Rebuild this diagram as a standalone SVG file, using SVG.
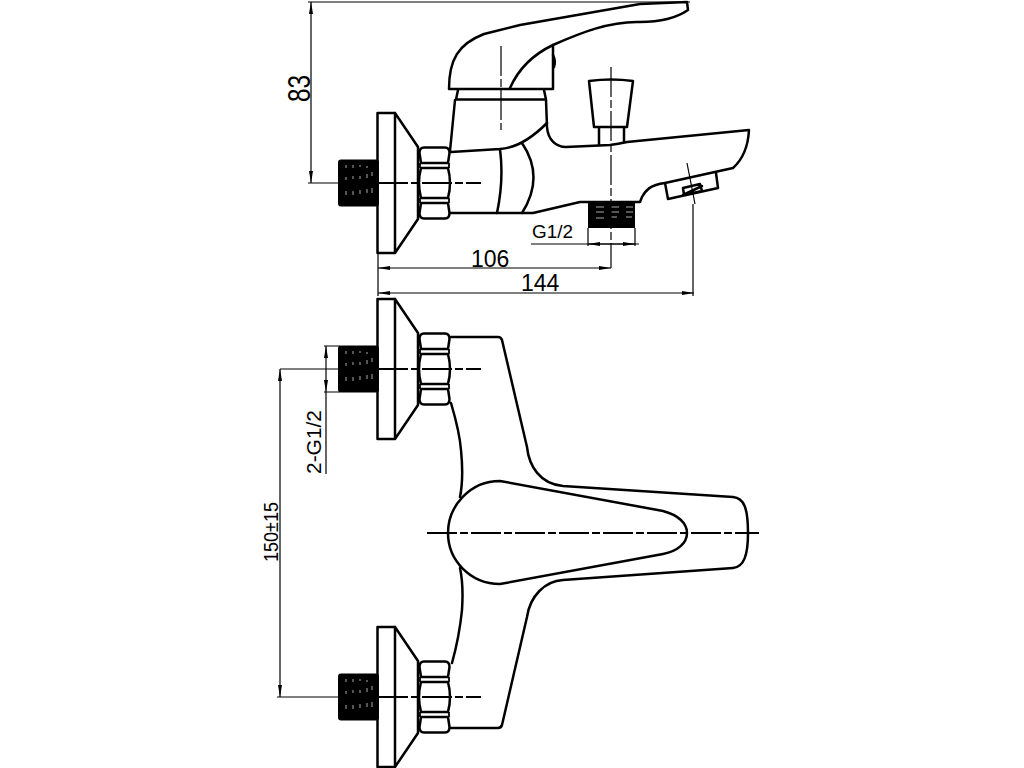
<svg xmlns="http://www.w3.org/2000/svg" xmlns:xlink="http://www.w3.org/1999/xlink" width="1024" height="768" viewBox="0 0 1024 768">
<style>
.o{fill:none;stroke:#000;stroke-width:2.5;stroke-linejoin:round;stroke-linecap:round}
.b{fill:none;stroke:#000;stroke-width:1.8}
.d{fill:none;stroke:#000;stroke-width:1.2}
.c{fill:none;stroke:#000;stroke-width:2;stroke-dasharray:30 3 8 3}
.t{fill:#000;font-family:"Liberation Sans",Arial,sans-serif}
.k{stroke:#aaa;stroke-width:1;fill:none}
</style>
<defs>
<marker id="a" markerWidth="12" markerHeight="6" refX="12" refY="3" orient="auto-start-reverse" markerUnits="userSpaceOnUse"><path d="M0 1L12 3L0 5Z" fill="#000"/></marker>
<g id="fit">
<rect x="338" y="-23.500" width="41" height="47" rx="3" fill="#000"/>
<path class="k" d="M346-18v3M353-18v3M360-18v2M367-17v2M346-6v3M353-7v3M360-7v3M367-9v4M372-11v4M346 8v4M353 8v4M360 7v4M367 6v4M372 5v5"/>
<path class="o" d="M377.500-70H395V70H377.500ZM395-70L418-36V36L395 70"/>
<path class="o" d="M421-20L419.500-30Q419.500-35.500 424-35.500H445Q449.500-35.500 449.500-30L448-20M421-20H448M421-15H448M421-15Q417 0 421 15H448M448-15Q452 0 448 15M421 20H448M421 20L419.500 30Q419.500 35.500 424 35.500H445Q449.500 35.500 449.500 30L448 20"/>
<path class="b" d="M420-20V-15M449-20V-15M420 15V20M449 15V20"/>
</g>
</defs>
<rect width="1024" height="768" fill="#fff"/>
<g id="side-view">
<path class="o" d="M449 89C449 60 458 44 484 34L520 25L640 4L687 2L688 10C675 19 660 22 640 22C610 21 580 33 553 45V89H449Z"/>
<path class="o" d="M510 88C518 70 532 55 553 45M553 55Q556 61 554 67"/>
<path class="o" d="M458 90L456 99.500H546L544 90M455 100L450 151M546 100L547 127C548 140 556 147 566 147L610 145Q618 144 627 142L749 130C748 148 742 160 733 168L665 183C650 185 646 190 642 197L640 202H580L533 213H450"/>
<path class="o" d="M451 152L500 149C518 148 535 135 547 123M500 149Q504 180 497 213M522 143Q545 177 522 213"/>
<path class="o" d="M665 183L668 199L718 188L716 173M683 188L700 184L702 191L684 195ZM683 195L702 186"/>
<path class="o" d="M589 81Q611 78 633 81L627 127H594ZM599 127V145M624 127V142"/>
<use xlink:href="#fit" y="183"/>
<rect x="588" y="202" width="47" height="26" fill="#000"/>
<path class="k" d="M596 207h8M611 207h8M626 207h7M596 212h8M611 212h8M626 212h7M596 218h8M611 217h6M626 217h6"/>
</g>
<g id="front-view">
<use xlink:href="#fit" y="369"/>
<use xlink:href="#fit" y="697"/>
<path class="o" d="M451 337H498Q501 337 502 340L527 447C529 466 540 484 563 486L733 497C744 498 748 508 748 533C748 555 744 567 733 568L563 580C545 581 530 596 527 617L502 725Q501 728 498 728H451"/>
<path class="o" d="M451 403C456 420 460 437 461 450C463 470 463 482 460 497M460 568C463 582 463 595 462 610C460 630 457 645 452 663"/>
<path class="o" d="M500 481L663 511C678 515 687 523 687 533C687 543 678 551 663 554L500 584C470 584 448 560 448 533C448 506 470 481 500 481Z"/>
</g>
<g id="centre-lines">
<path class="c" d="M378 183H481"/>
<path class="c" d="M378 369H481"/>
<path class="c" d="M378 697H481"/>
<path class="c" d="M427 533H759"/>
<path class="d" stroke-dasharray="30 3 8 3" d="M501 46V130"/>
<path class="d" stroke-dasharray="30 3 8 3" d="M611 67V268"/>
<path class="d" d="M687 163L695 204"/>
</g>
<g id="dimensions">
<path class="d" d="M308 2H690M308 183H338M378 253V296M531 244H639M588 228V246M635 228V246M693 204V296M280 369H338M277 697H338M324 346H340M324 392H340M326 392V474"/>
<path class="d" marker-start="url(#a)" marker-end="url(#a)" d="M311 2V183"/>
<path class="d" marker-start="url(#a)" marker-end="url(#a)" d="M378 268H611"/>
<path class="d" marker-start="url(#a)" marker-end="url(#a)" d="M378 293H694"/>
<path class="d" marker-start="url(#a)" marker-end="url(#a)" d="M588 244H635"/>
<path class="d" marker-start="url(#a)" marker-end="url(#a)" d="M280 369V697"/>
<path class="d" marker-start="url(#a)" marker-end="url(#a)" d="M326 346V392"/>
</g>
<g id="labels">
<text class="t" font-size="32" transform="translate(310 102) rotate(-90)" textLength="27" lengthAdjust="spacingAndGlyphs">83</text>
<text class="t" font-size="23" x="471" y="267">106</text>
<text class="t" font-size="23" x="521" y="291">144</text>
<text class="t" font-size="18" x="532" y="238" textLength="41" lengthAdjust="spacingAndGlyphs">G1/2</text>
<text class="t" font-size="20" transform="translate(321 474) rotate(-90)" textLength="64" lengthAdjust="spacingAndGlyphs">2-G1/2</text>
<text class="t" font-size="20" transform="translate(278 562) rotate(-90)" textLength="60" lengthAdjust="spacingAndGlyphs">150±15</text>
</g>
</svg>
